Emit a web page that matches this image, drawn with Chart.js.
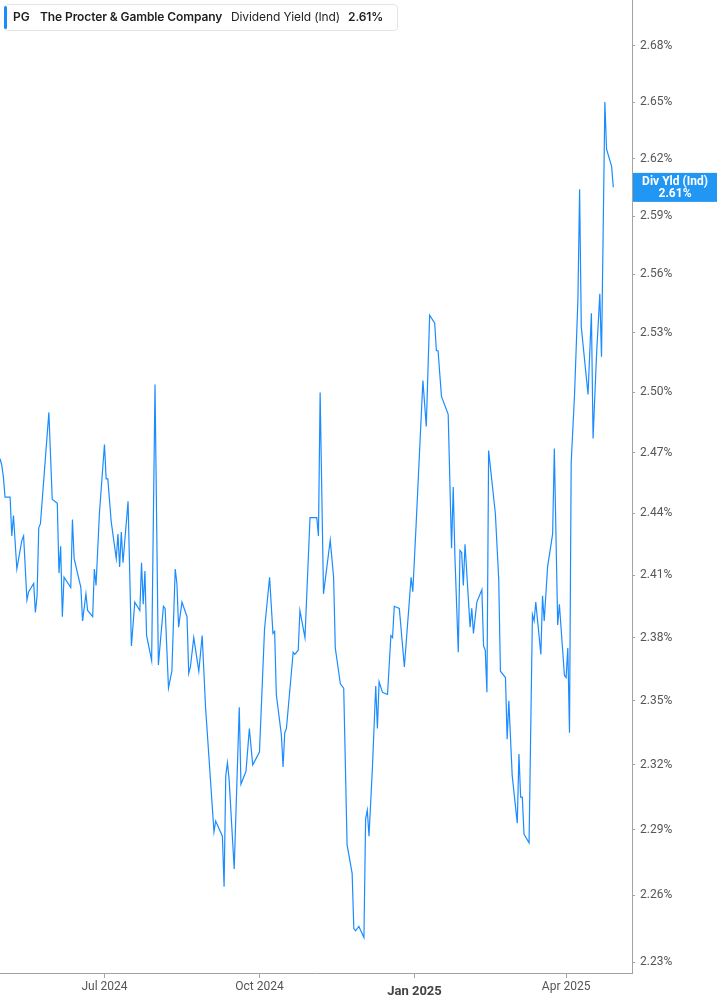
<!DOCTYPE html>
<html>
<head>
<meta charset="utf-8">
<title>PG Dividend Yield (Ind)</title>
<script src="https://cdn.jsdelivr.net/npm/chart.js@4.4.1/dist/chart.umd.min.js"></script>
<style>
  html, body { margin: 0; padding: 0; background: #fff; }
  #wrap { position: relative; width: 717px; height: 1005px; overflow: hidden; }
  canvas { display: block; }
  .legend {
    position: absolute; left: 4px; top: 4px; width: 392px; height: 25px;
    border: 1px solid #e4e4e4; border-radius: 4px; background: #fff;
    font-family: Inter, "Noto Sans", sans-serif; font-size: 12px; color: #1f1f1f;
  }
  .legend .bar {
    position: absolute; left: -1px; top: 1px; bottom: 1px; width: 3px;
    border-radius: 2px; background: #1a8cff;
  }
  .legend span { position: absolute; top: 4px; line-height: 15px; white-space: nowrap; letter-spacing: -0.1px; }
  .legend .b { font-weight: 600; }
</style>
</head>
<body>
<div id="wrap">
  <canvas id="chart" width="717" height="1005"></canvas>
  <div class="legend">
    <div class="bar"></div>
    <span class="b" style="left:8px">PG</span>
    <span class="b" style="left:35px">The Procter &amp; Gamble Company</span>
    <span style="left:226px">Dividend Yield (Ind)</span>
    <span class="b" style="left:343px" id="legendValue"></span>
  </div>
</div>
<script>
(() => {
  "use strict";

  // ── Data: day offsets from 1 Jul 2024, dividend yield in % ────────────────
  const DAYS = [
    -62, -61, -60, -59, -56, -55, -54, -52, -49, -48, -46, -45, -42, -41, -40,
    -39, -38, -33, -31, -28, -27, -26, -25, -24, -20, -19, -18, -14, -13, -11,
    -10, -7, -6, -5, -3, 0, 1, 2, 4, 7, 8, 9, 10, 11, 14, 16, 18, 21, 22, 23,
    24, 25, 28, 30, 32, 35, 36, 38, 40, 42, 43, 44, 46, 49, 50, 51, 53, 56, 58,
    60, 65, 66, 70, 71, 72, 73, 74, 77, 80, 81, 84, 86, 88, 92, 95, 98, 100,
    101, 102, 105, 106, 107, 108, 112, 113, 115, 116, 119, 122, 126, 127, 128,
    130, 134, 136, 137, 140, 142, 144, 147, 148, 149, 151, 154, 155, 156, 157,
    159, 161, 162, 163, 165, 168, 170, 171, 172, 175, 178, 182, 183, 185, 189,
    191, 193, 196, 197, 198, 200, 204, 206, 207, 208, 210, 211, 212, 213, 214,
    217, 218, 219, 221, 224, 225, 226, 227, 228, 232, 234, 235, 238, 239, 240,
    242, 245, 246, 247, 248, 249, 252, 254, 255, 256, 259, 260, 261, 263, 266,
    267, 269, 270, 273, 274, 275, 276, 277, 279, 281, 282, 283, 287, 289, 290,
    292, 294, 295, 297, 298, 301, 302,
  ];

  const YIELDS = [
    2.467, 2.464, 2.458, 2.448, 2.448, 2.429, 2.439, 2.413, 2.427, 2.429, 2.398,
    2.402, 2.406, 2.392, 2.400, 2.433, 2.435, 2.490, 2.447, 2.445, 2.411, 2.424,
    2.390, 2.409, 2.404, 2.437, 2.418, 2.404, 2.388, 2.401, 2.393, 2.390, 2.413,
    2.405, 2.440, 2.474, 2.457, 2.457, 2.436, 2.418, 2.430, 2.414, 2.431, 2.416,
    2.446, 2.376, 2.397, 2.393, 2.416, 2.396, 2.412, 2.381, 2.369, 2.504, 2.367,
    2.395, 2.394, 2.356, 2.364, 2.413, 2.406, 2.385, 2.397, 2.390, 2.363, 2.366,
    2.380, 2.364, 2.381, 2.347, 2.289, 2.294, 2.287, 2.264, 2.315, 2.321, 2.313,
    2.272, 2.347, 2.311, 2.317, 2.337, 2.320, 2.326, 2.384, 2.409, 2.382, 2.383,
    2.353, 2.334, 2.319, 2.335, 2.337, 2.373, 2.372, 2.374, 2.393, 2.380, 2.438,
    2.438, 2.429, 2.500, 2.401, 2.427, 2.409, 2.375, 2.358, 2.356, 2.283, 2.270,
    2.245, 2.244, 2.246, 2.241, 2.295, 2.299, 2.287, 2.318, 2.357, 2.337, 2.359,
    2.354, 2.353, 2.381, 2.380, 2.395, 2.394, 2.366, 2.409, 2.402, 2.435, 2.506,
    2.483, 2.539, 2.535, 2.521, 2.521, 2.498, 2.489, 2.423, 2.453, 2.419, 2.373,
    2.422, 2.421, 2.405, 2.425, 2.385, 2.394, 2.382, 2.397, 2.403, 2.376, 2.374,
    2.354, 2.471, 2.440, 2.408, 2.364, 2.361, 2.332, 2.350, 2.315, 2.293, 2.325,
    2.305, 2.305, 2.288, 2.284, 2.391, 2.388, 2.397, 2.372, 2.400, 2.388, 2.414,
    2.430, 2.472, 2.386, 2.396, 2.362, 2.361, 2.375, 2.335, 2.465, 2.499, 2.547,
    2.604, 2.533, 2.499, 2.540, 2.477, 2.518, 2.550, 2.518, 2.650, 2.625, 2.616,
    2.605,
  ];

  const CURRENT_YIELD = "2.61%";

  const X_TICK_DAYS = [0, 92, 184, 274];
  const X_TICK_LABELS = ["Jul 2024", "Oct 2024", "Jan 2025", "Apr 2025"];
  const Y_TICKS = [
    2.23, 2.26, 2.29, 2.32, 2.35, 2.38, 2.41, 2.44, 2.47, 2.5, 2.53, 2.56, 2.59,
    2.62, 2.65, 2.68,
  ];

  const X_MIN = -62;
  const X_MAX = 313.1;
  const Y_MIN = 2.2251;
  const Y_MAX = 2.7048;

  const LINE_COLOR = "#1a8cff";
  const TAG_COLOR = "#2196f3";
  const AXIS_COLOR = "#a3a3a3";

  document.getElementById("legendValue").textContent = CURRENT_YIELD;

  // ── Last value tag on the right axis ──────────────────────────────────────
  const lastValueTag = {
    id: "lastValueTag",
    afterDraw(chart) {
      const { ctx, chartArea, scales } = chart;
      const y = scales.y.getPixelForValue(YIELDS[YIELDS.length - 1]);
      const left = chartArea.right + 1;
      const w = chart.width - left;
      const h = 29;
      ctx.save();
      ctx.fillStyle = TAG_COLOR;
      ctx.fillRect(left, y - h / 2, w, h);
      ctx.fillStyle = "#fff";
      ctx.textAlign = "center";
      ctx.textBaseline = "middle";
      ctx.font = "bold 12px Roboto";
      ctx.fillText("Div Yld (Ind)", left + w / 2, y - 5);
      ctx.fillText(CURRENT_YIELD, left + w / 2, y + 6.5);
      ctx.restore();
    },
  };

  // no extra room for half-labels at the ends of the axes
  const noPadding = (s) => {
    s.paddingTop = 0;
    s.paddingBottom = 0;
    s.paddingLeft = 0;
    s.paddingRight = 0;
  };

  const ctx = document.getElementById("chart").getContext("2d");
  new Chart(ctx, {
    type: "line",
    data: {
      datasets: [
        {
          data: DAYS.map((d, i) => ({ x: d, y: YIELDS[i] })),
          borderColor: LINE_COLOR,
          borderWidth: 1.2,
          pointRadius: 0,
          tension: 0,
          fill: false,
        },
      ],
    },
    options: {
      responsive: false,
      animation: false,
      layout: { padding: 0 },
      plugins: {
        legend: { display: false },
        tooltip: { enabled: false },
      },
      scales: {
        x: {
          type: "linear",
          bounds: "data",
          min: X_MIN,
          max: X_MAX,
          afterBuildTicks: (s) => {
            s.ticks = X_TICK_DAYS.map((v) => ({ value: v }));
          },
          afterFit: (s) => {
            s.height = 32;
            noPadding(s);
          },
          grid: {
            drawOnChartArea: false,
            tickLength: 5,
            color: AXIS_COLOR,
          },
          border: { color: AXIS_COLOR, width: 1 },
          ticks: {
            autoSkip: false,
            maxRotation: 0,
            padding: 2,
            color: (c) => (c.tick && c.tick.value === 184 ? "#444" : "#555"),
            font: (c) =>
              c.tick && c.tick.value === 184
                ? { family: "Roboto", size: 13, weight: "bold", lineHeight: 1.8 }
                : { family: "Roboto", size: 12, lineHeight: 1.2 },
            callback: (v) => X_TICK_LABELS[X_TICK_DAYS.indexOf(v)],
          },
        },
        y: {
          type: "logarithmic",
          position: "right",
          bounds: "data",
          min: Y_MIN,
          max: Y_MAX,
          afterBuildTicks: (s) => {
            s.ticks = Y_TICKS.map((v) => ({ value: v }));
          },
          afterFit: (s) => {
            s.width = 85;
            noPadding(s);
          },
          grid: {
            drawOnChartArea: false,
            tickLength: 3,
            color: AXIS_COLOR,
          },
          border: { color: AXIS_COLOR, width: 1 },
          ticks: {
            autoSkip: false,
            padding: 5,
            color: "#555",
            font: { family: "Roboto", size: 12 },
            callback: (v) => v.toFixed(2) + "%",
          },
        },
      },
    },
    plugins: [lastValueTag],
  });
})();
</script>
</body>
</html>
